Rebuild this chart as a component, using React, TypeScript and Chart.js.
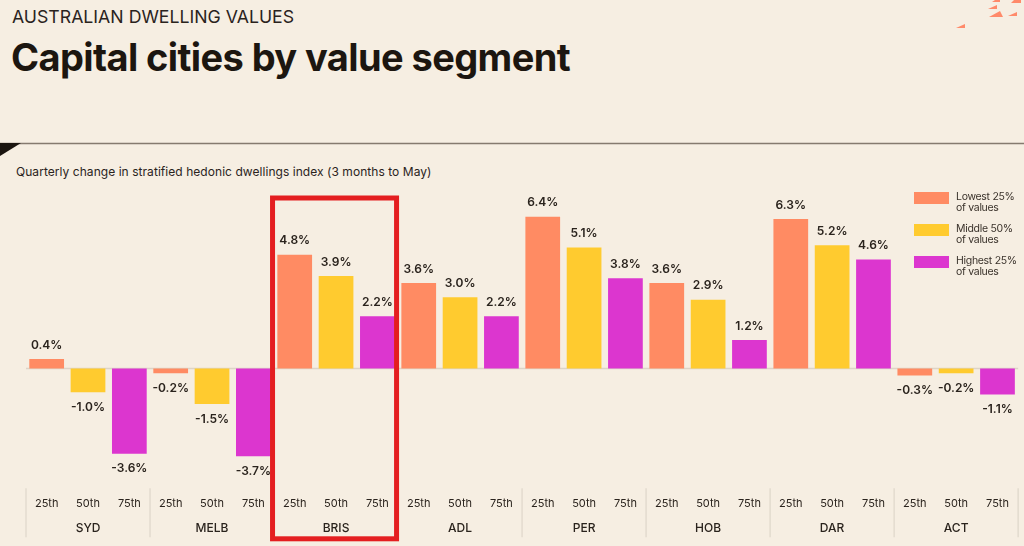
import React, { useEffect, useRef } from "react";
import { Chart, registerables } from "chart.js";

Chart.register(...registerables);

// ---- data ----
const cities = ["SYD", "MELB", "BRIS", "ADL", "PER", "HOB", "DAR", "ACT"];
const segmentTicks = [
  "25th", "50th", "75th", "25th", "50th", "75th", "25th", "50th", "75th",
  "25th", "50th", "75th", "25th", "50th", "75th", "25th", "50th", "75th",
  "25th", "50th", "75th", "25th", "50th", "75th",
];
const seriesNames = ["Lowest 25%", "Middle 50%", "Highest 25%"];
const lowest25 = [0.4, -0.2, 4.8, 3.6, 6.4, 3.6, 6.3, -0.3];
const middle50 = [-1.0, -1.5, 3.9, 3.0, 5.1, 2.9, 5.2, -0.2];
const highest25 = [-3.6, -3.7, 2.2, 2.2, 3.8, 1.2, 4.6, -1.1];
const highlightedCity = "BRIS";

const COLORS = ["#FF8B63", "#FFCB2F", "#DC36CF"];
const BG = "#F6EEE2";
const TEXT = "#2A231D";
const FONT = "Inter, 'Open Sans', sans-serif";

const decorPlugin = {
  id: "decor",
  beforeDatasetsDraw(chart: any) {
    const { ctx, chartArea, scales } = chart;
    const y0 = scales.y.getPixelForValue(0);
    ctx.save();
    ctx.strokeStyle = "#DDD4C7";
    ctx.lineWidth = 1.5;
    ctx.beginPath();
    ctx.moveTo(chartArea.left, y0);
    ctx.lineTo(chartArea.right, y0);
    ctx.stroke();
    ctx.restore();
  },
  afterDatasetsDraw(chart: any) {
    const { ctx } = chart;
    ctx.save();
    ctx.fillStyle = TEXT;
    ctx.font = `600 12px ${FONT}`;
    ctx.textAlign = "center";
    ctx.textBaseline = "middle";
    chart.data.datasets.forEach((ds: any, di: number) => {
      const meta = chart.getDatasetMeta(di);
      meta.data.forEach((el: any, i: number) => {
        const v = ds.data[i];
        const y = v >= 0 ? el.y - 14 : el.y + 15;
        ctx.fillText(`${v.toFixed(1)}%`, el.x, y);
      });
    });
    ctx.restore();
  },
  afterDraw(chart: any) {
    const { ctx, chartArea, scales } = chart;
    const x = scales.x;
    ctx.save();
    ctx.strokeStyle = "#E3DBCF";
    ctx.lineWidth = 1.5;
    for (let i = 0; i <= cities.length; i++) {
      const px = x.getPixelForValue(i - 0.5);
      ctx.beginPath();
      ctx.moveTo(px, chartArea.bottom + 6);
      ctx.lineTo(px, chartArea.bottom + 55);
      ctx.stroke();
    }
    const hi = cities.indexOf(highlightedCity);
    const l = x.getPixelForValue(hi - 0.5) - 1.5;
    const r = x.getPixelForValue(hi + 0.5) - 1.5;
    ctx.strokeStyle = "#E41E20";
    ctx.lineWidth = 5;
    ctx.strokeRect(l, chartArea.top + 5, r - l, chartArea.bottom + 56.5 - (chartArea.top + 5));
    ctx.restore();
  },
};

function ChartCanvas() {
  const ref = useRef<HTMLCanvasElement | null>(null);
  useEffect(() => {
    if (!ref.current) return;
    const chart = new Chart(ref.current, {
      type: "bar",
      data: {
        labels: cities,
        datasets: [lowest25, middle50, highest25].map((d, i) => ({
          label: seriesNames[i],
          data: d,
          xAxisID: "x",
          yAxisID: "y",
          backgroundColor: COLORS[i],
          borderWidth: 0,
          categoryPercentage: 1,
          barPercentage: 0.84,
        })),
      },
      options: {
        responsive: false,
        animation: false,
        events: [],
        layout: { padding: { left: 26, right: 3, top: 8, bottom: 20.5 } },
        plugins: { legend: { display: false }, tooltip: { enabled: false } },
        scales: {
          x: {
            type: "category",
            axis: "x",
            position: "bottom",
            weight: 1,
            offset: true,
            grid: { display: false, drawTicks: false },
            border: { display: false },
            ticks: {
              color: TEXT,
              font: { family: FONT, size: 12, weight: "500" },
              padding: -10.5,
              mirror: true,
              maxRotation: 0,
              autoSkip: false,
            },
          },
          x2: {
            type: "category",
            axis: "x",
            labels: segmentTicks,
            position: "bottom",
            weight: 0,
            offset: true,
            grid: { display: false, drawTicks: false },
            border: { display: false },
            ticks: {
              color: TEXT,
              font: { family: FONT, size: 11, weight: "400" },
              padding: 15,
              maxRotation: 0,
              autoSkip: false,
            },
          },
          y: { display: false, min: -4.8, max: 7.4 },
        },
      },
      plugins: [decorPlugin],
    } as any);
    return () => chart.destroy();
  }, []);
  return <canvas ref={ref} width={1024} height={361} style={{ display: "block" }} />;
}

export default function App() {
  const legendRow = (i: number, top: number) => (
    <div key={i} style={{ position: "absolute", left: 914, top, display: "flex" }}>
      <div style={{ width: 35, height: 12, background: COLORS[i], marginTop: 1 }} />
      <div style={{ marginLeft: 7, fontSize: 10.5, lineHeight: "11px", color: "#3A322B", letterSpacing: -0.3 }}>
        {seriesNames[i]}
        <br />
        of values
      </div>
    </div>
  );
  return (
    <div
      style={{
        position: "fixed",
        left: 0,
        top: 0,
        width: 1024,
        height: 546,
        background: BG,
        overflow: "hidden",
        fontFamily: FONT,
        color: TEXT,
      }}
    >
      <svg width={1024} height={546} style={{ position: "absolute", left: 0, top: 0 }}>
        <line x1={0} y1={143.5} x2={1024} y2={143.5} stroke="#857A6F" strokeWidth={1.6} />
        <polygon points="0,143 21,143 0,156" fill="#1B1510" />
        <g fill="#FF8A6A">
          <polygon points="988,9 997,9 997,5" />
          <polygon points="989,17 1003,17 1000,11" />
          <polygon points="1008,16 1017,16 1017,12" />
          <polygon points="956,28 965,28 965,24" />
          <polygon points="992,2 1000,2 1000,0 995,0" />
          <polygon points="1011,3 1021,3 1021,0 1014,0" />
        </g>
      </svg>
      <div style={{ position: "absolute", left: 12, top: 6, fontSize: 17.7, letterSpacing: 0, fontWeight: 400 }}>
        AUSTRALIAN DWELLING VALUES
      </div>
      <div style={{ position: "absolute", left: 11, top: 34, fontSize: 38, fontWeight: 700, letterSpacing: -0.6, color: "#1C1610" }}>
        Capital cities by value segment
      </div>
      <div style={{ position: "absolute", left: 16, top: 164, fontSize: 12, letterSpacing: 0.05 }}>
        Quarterly change in stratified hedonic dwellings index (3 months to May)
      </div>
      <div style={{ position: "absolute", left: 0, top: 185 }}>
        <ChartCanvas />
      </div>
      {legendRow(0, 191)}
      {legendRow(1, 223)}
      {legendRow(2, 255)}
    </div>
  );
}
